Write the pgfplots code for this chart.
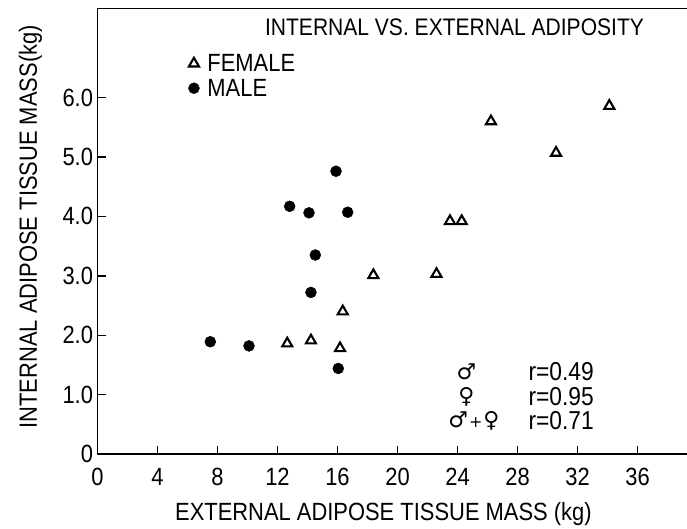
\documentclass[border=0pt]{standalone}
\usepackage{fontspec}
\setmainfont{Liberation Sans}[FakeStretch=0.88]
\newfontfamily\symfont{DejaVu Sans}
\usepackage{pgfplots}
\pgfplotsset{compat=1.18}
\begin{document}
\begin{tikzpicture}
\begin{axis}[
  scale only axis,
  width=589.5bp, height=445.5bp,
  xmin=0, xmax=39.3, ymin=0, ymax=7.5,
  axis lines=left,
  axis line style={-, line width=1.7bp, black},
  tick style={line width=1.4bp, black},
  tick align=inside,
  major tick length=8bp,
  xtick={0,4,...,36},
  ytick={0,1,...,6},
  yticklabels={0,1.0,2.0,3.0,4.0,5.0,6.0},
  /pgf/number format/assume math mode=true,
  tick label style={font=\fontsize{25}{28}\selectfont},
  xticklabel style={yshift=-11bp},
  yticklabel style={xshift=-1bp},
  label style={font=\fontsize{25}{28}\selectfont},
  xlabel={EXTERNAL ADIPOSE TISSUE MASS (kg)},
  ylabel={INTERNAL ADIPOSE TISSUE MASS(kg)},
  xlabel style={at={(rel axis cs:0.485,0)}, anchor=north, yshift=-45bp},
  ylabel style={at={(rel axis cs:0,0.51)}, anchor=south, xshift=0bp, yshift=52bp},
  legend cell align=left,
  legend style={draw=none, fill=none, at={(axis cs:6.05,6.75)}, anchor=north west,
    font=\fontsize{25}{28}\selectfont, row sep=4bp, column sep=7bp, inner sep=0pt,
    nodes={inner sep=1bp}},
  legend image code/.code={\draw[#1] plot coordinates {(0bp,0bp)};},
  clip=false,
]
\addplot[only marks, mark=triangle, mark size=5.8bp, mark options={line width=2.1bp, fill=white, draw=black}]
  coordinates {
  (16.35,2.40) (12.65,1.86) (14.23,1.91) (16.17,1.78)
  (18.39,3.01) (22.6,3.03) (23.5,3.92) (24.28,3.92)
  (34.12,5.86) (26.23,5.60) (30.57,5.07)
  };
\addlegendentry{FEMALE}
\addplot[only marks, mark=*, mark size=5.5bp, mark options={fill=black, draw=black}]
  coordinates {
  (15.9,4.76) (12.81,4.17) (14.1,4.06) (16.68,4.07) (14.52,3.35)
  (14.23,2.72) (7.52,1.89) (10.1,1.82) (16.05,1.44)
  };
\addlegendentry{MALE}
\draw[line width=1.7bp] (rel axis cs:0,1) -- (rel axis cs:1,1);
\node[font=\fontsize{24}{28}\selectfont] at (axis cs:23.8,7.19) {INTERNAL VS. EXTERNAL ADIPOSITY};
\node[font=\fontsize{22}{26}\selectfont\symfont] at (axis cs:24.6,1.38) {♂};
\node[font=\fontsize{22}{26}\selectfont\symfont] at (axis cs:24.6,0.96) {♀};
\node[font=\fontsize{22}{26}\selectfont\symfont] at (axis cs:25.1,0.56) {♂\kern1bp{\fontsize{16}{18}\selectfont+}\kern1bp♀};
\node[font=\fontsize{26}{28}\selectfont, anchor=west] at (axis cs:28.5,1.38) {r=0.49};
\node[font=\fontsize{26}{28}\selectfont, anchor=west] at (axis cs:28.5,0.96) {r=0.95};
\node[font=\fontsize{26}{28}\selectfont, anchor=west] at (axis cs:28.5,0.56) {r=0.71};
\end{axis}
\pgfresetboundingbox
\path[use as bounding box] (-97.5bp,-75bp) rectangle (589.5bp,454bp);
\end{tikzpicture}
\end{document}
